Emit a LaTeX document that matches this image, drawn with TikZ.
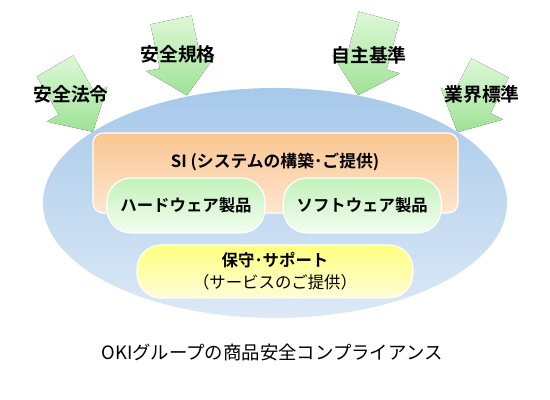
\documentclass[tikz,border=0pt]{standalone}
\usepackage{fontspec}
\setmainfont{Noto Sans CJK JP}[BoldFont={Noto Sans CJK JP Bold}]
\usetikzlibrary{positioning,shapes.geometric}

\definecolor{skyTop}{HTML}{A7C9EA}
\definecolor{skyBot}{HTML}{DCE9F6}
\definecolor{orgTop}{HTML}{F9C691}
\definecolor{orgBot}{HTML}{FDE6CF}
\definecolor{grnTop}{HTML}{C2F2BA}
\definecolor{grnBot}{HTML}{F3FDF0}
\definecolor{ylwTop}{HTML}{FFFF7E}
\definecolor{ylwBot}{HTML}{FFFDD8}
\definecolor{arrTop}{HTML}{DDF8D6}
\definecolor{arrBot}{HTML}{9FE297}

\begin{document}
\begin{tikzpicture}[
    x=0.5pt, y=0.5pt,
    lbl/.style={font=\fontsize{9.4}{11}\selectfont\bfseries},
    boxlbl/.style={font=\fontsize{8.4}{11}\selectfont\bfseries},
    pill/.style={draw=white, line width=0.6pt, rounded corners=12pt,
        minimum width=79pt, minimum height=27.5pt, inner sep=0pt,
        top color=grnTop, bottom color=grnBot,
        font=\fontsize{8.2}{11}\selectfont\bfseries},
]
\useasboundingbox (0,0) rectangle (550,400);

% Incoming requirements (block arrows)
\foreach \tx/\ty/\ang/\len in {55/334/-60/76, 171/380/-78/77,
                               379/383/-105/81, 490/332/-117/72}{
  \begin{scope}[shift={(\tx,\ty)}, rotate=\ang]
    \fill[top color=arrTop, bottom color=arrBot]
      (0,21) -- ({\len-32},21) -- ({\len-32},35) -- (\len,0)
      -- ({\len-32},-35) -- ({\len-32},-21) -- (0,-21) -- cycle;
  \end{scope}
}

% Compliance field
\node[ellipse, minimum width=232pt, minimum height=115pt, inner sep=0pt,
    top color=skyTop, bottom color=skyBot] (field) at (275,197) {};

% SI box
\node[draw=white, line width=0.6pt, rounded corners=5pt, inner sep=0pt,
    minimum width=182.5pt, minimum height=40pt,
    top color=orgTop, bottom color=orgBot] (si) at (275.5,227) {};
\node[boxlbl] (siText) at (275,238) {SI (システムの構築･ご提供)};

% Products
\node[pill] (hw) at (186,194.5) {ハードウェア製品};
\node[pill, right=8.5pt of hw] (sw) {ソフトウェア製品};

% Maintenance
\node[draw=white, line width=0.6pt, rounded corners=12pt, inner sep=0pt,
    minimum width=138pt, minimum height=26.5pt, align=center,
    top color=ylwTop, bottom color=ylwBot,
    font=\fontsize{8.2}{11}\selectfont] (care) at (275,128.5)
    {\textbf{保守･サポート}\\（サービスのご提供）};

% Requirement labels
\node[lbl] (lawLbl)  at (71,306)  {安全法令};
\node[lbl] (stdLbl)  at (178,346) {安全規格};
\node[lbl] (selfLbl) at (369,345) {自主基準};
\node[lbl] (indLbl)  at (482,306) {業界標準};

% Caption
\node[font=\fontsize{9.2}{11}\selectfont] (title) at (272,47)
    {OKIグループの商品安全コンプライアンス};

\end{tikzpicture}
\end{document}
